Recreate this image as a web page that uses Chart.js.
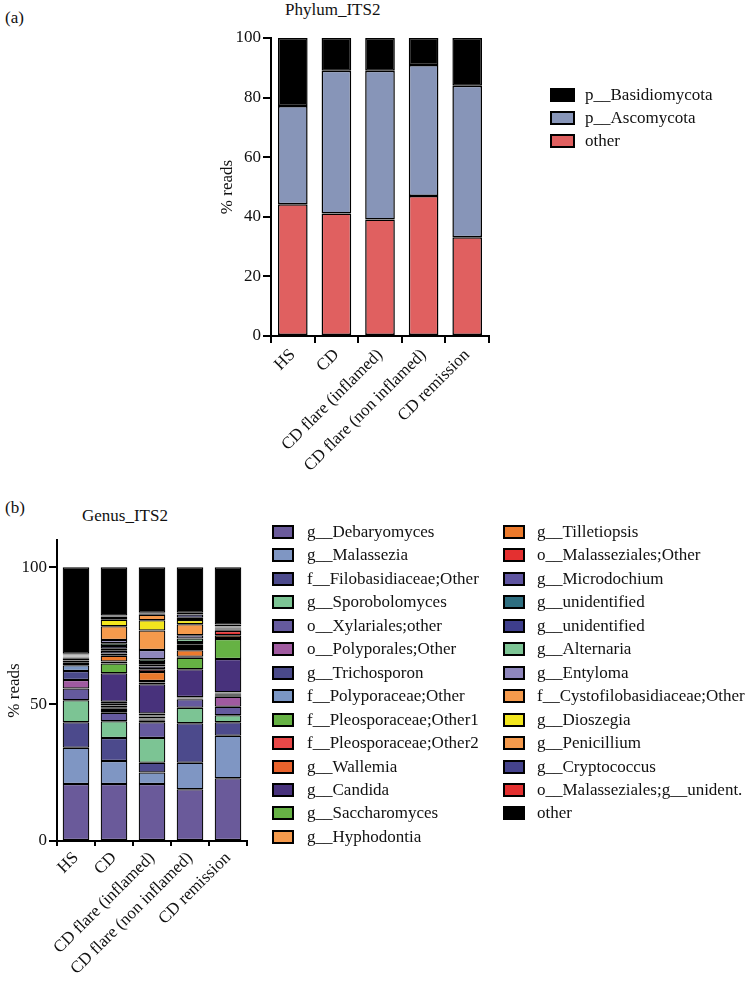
<!DOCTYPE html>
<html>
<head>
<meta charset="utf-8">
<script src="https://cdn.jsdelivr.net/npm/chart.js@4.4.0/dist/chart.umd.min.js"></script>
<style>
  body { margin: 0; background: #fff; font-family: "Liberation Serif", serif; color: #111; }
  #page { position: relative; width: 752px; height: 983px; overflow: hidden; }
  .abs { position: absolute; }
  .lbl { font-size: 17px; white-space: nowrap; line-height: 1; }
  .item { position: absolute; height: 20px; display: flex; align-items: center; white-space: nowrap; font-size: 17px; }
  .box { box-sizing: border-box; border: 2px solid #000; }
</style>
</head>
<body>
<div id="page">
  <div class="abs lbl" style="left:5px; top:9px;">(a)</div>
  <div class="abs lbl" style="left:5px; top:499px;">(b)</div>
  <div class="abs lbl" style="left:285px; top:1px;">Phylum_ITS2</div>
  <div class="abs lbl" style="left:82px; top:507px;">Genus_ITS2</div>
  <canvas id="phylum" class="abs" width="752" height="490" style="left:0; top:0;"></canvas>
  <canvas id="genus" class="abs" width="752" height="493" style="left:0; top:490px;"></canvas>
  <div id="phylumLegend"></div>
  <div id="genusLegend"></div>
</div>
<script>
// groups on the x axis
const groups = ['HS', 'CD', 'CD flare (inflamed)', 'CD flare (non inflamed)', 'CD remission']

// panel (a) - phylum
const phylumOther = [44.2, 41.1, 39.1, 47.0, 33.1]
const ascomycota = [33.0, 47.9, 49.9, 43.9, 50.9]
const basidiomycota = [22.8, 11.0, 11.0, 9.1, 16.0]

// panel (b) - genus, bottom of the stack first
const debaryomyces = [20.8, 20.8, 20.8, 18.9, 22.9]
const malassezia = [13.3, 8.4, 4.2, 9.7, 15.6]
const filobasidiaceae = [9.3, 8.4, 3.6, 14.4, 4.9]
const sporobolomyces = [8.0, 6.2, 9.0, 5.7, 2.6]
const xylariales = [4.3, 3.1, 5.8, 3.1, 3.1]
const polyporales = [3.1, 0.6, 0.5, 0.1, 3.6]
const trichosporon = [3.3, 0.8, 0.5, 0.2, 0.6]
const polyporaceae = [2.1, 0.6, 0.4, 0.1, 0.3]
const pleosporaceae1 = [0.9, 0.6, 0.7, 0.1, 0.3]
const pleosporaceae2 = [0.9, 0.7, 0.4, 0.1, 0.3]
const wallemia = [0.8, 0.7, 0.7, 0.2, 0.2]
const candida = [0.2, 10.4, 10.7, 10.2, 12.1]
const saccharomyces = [0.1, 3.6, 0.6, 4.2, 7.3]
const hyphodontia = [0.1, 0.7, 0.6, 0.3, 0.4]
const tilletiopsis = [0.1, 2.1, 3.3, 2.4, 1.0]
const malassezialesOther = [0.1, 0.8, 1.0, 0.8, 1.5]
const microdochium = [0.1, 1.0, 1.0, 0.8, 0.3]
const unidentifiedA = [0.1, 0.8, 0.8, 0.6, 0.3]
const unidentifiedB = [0.1, 1.0, 0.8, 0.8, 0.4]
const alternaria = [0.1, 1.0, 1.0, 1.3, 0.2]
const entyloma = [0.1, 1.2, 3.4, 1.2, 0.2]
const cystofilobasidiaceae = [0.1, 5.0, 7.1, 4.0, 0.2]
const dioszegia = [0.1, 2.4, 3.8, 1.6, 0.1]
const penicillium = [0.1, 0.6, 2.0, 0.8, 0.2]
const cryptococcus = [0.1, 0.5, 0.4, 1.2, 0.3]
const malassezialesUnident = [0.1, 0.4, 0.3, 0.6, 0.2]
const genusOther = [31.6, 17.6, 16.6, 16.6, 20.9]

const genusNames = [
  'g__Debaryomyces', 'g__Malassezia', 'f__Filobasidiaceae;Other', 'g__Sporobolomyces',
  'o__Xylariales;other', 'o__Polyporales;Other', 'g__Trichosporon', 'f__Polyporaceae;Other',
  'f__Pleosporaceae;Other1', 'f__Pleosporaceae;Other2', 'g__Wallemia', 'g__Candida',
  'g__Saccharomyces', 'g__Hyphodontia', 'g__Tilletiopsis', 'o__Malasseziales;Other',
  'g__Microdochium', 'g__unidentified', 'g__unidentified', 'g__Alternaria', 'g__Entyloma',
  'f__Cystofilobasidiaceae;Other', 'g__Dioszegia', 'g__Penicillium', 'g__Cryptococcus',
  'o__Malasseziales;g__unident.', 'other'
]
const genusColors = [
  '#6a5a9a', '#7f96c3', '#4c4a8c', '#7cc494', '#655a9e', '#a05aa0', '#4a4a8a', '#7a96c4',
  '#66b244', '#e84848', '#e8622c', '#48327c', '#66b244', '#f59a4c', '#ec7a2c', '#e43030',
  '#5e54a0', '#2e6e80', '#3e3e8c', '#7cc494', '#8e86bc', '#f59a4c', '#f2e61e', '#f59a4c',
  '#44428c', '#e43030', '#000000'
]
const genusSeries = [
  debaryomyces, malassezia, filobasidiaceae, sporobolomyces, xylariales, polyporales,
  trichosporon, polyporaceae, pleosporaceae1, pleosporaceae2, wallemia, candida,
  saccharomyces, hyphodontia, tilletiopsis, malassezialesOther, microdochium, unidentifiedA,
  unidentifiedB, alternaria, entyloma, cystofilobasidiaceae, dioszegia, penicillium,
  cryptococcus, malassezialesUnident, genusOther
]

const FONT = 'Liberation Serif'
Chart.defaults.font.family = FONT
Chart.defaults.font.size = 17
Chart.defaults.color = '#111'

function axes(yMax, yStep, yWidth, xHeight, titlePad, xTickLen) {
  return {
    x: {
      stacked: true,
      grid: { display: true, drawOnChartArea: false, color: '#000', lineWidth: 2, tickLength: xTickLen },
      border: { display: true, color: '#000', width: 2 },
      ticks: { minRotation: 45, maxRotation: 45, padding: 2, color: '#111', font: { size: 17 } },
      afterFit(scale) { scale.height = xHeight }
    },
    y: {
      stacked: true,
      min: 0,
      max: yMax,
      grid: { display: true, drawOnChartArea: false, color: '#000', lineWidth: 2, tickLength: 8 },
      border: { display: true, color: '#000', width: 2 },
      ticks: { stepSize: yStep, includeBounds: false, padding: 2, color: '#111', font: { size: 17 } },
      title: { display: true, text: '% reads', font: { size: 17 }, color: '#111', padding: { top: titlePad, bottom: 0 } },
      afterFit(scale) { scale.width = yWidth }
    }
  }
}

// panel (a)
const phylumSets = [
  { label: 'other', data: phylumOther, backgroundColor: '#e06060' },
  { label: 'p__Ascomycota', data: ascomycota, backgroundColor: '#8795b8' },
  { label: 'p__Basidiomycota', data: basidiomycota, backgroundColor: '#000000' }
]
new Chart(document.getElementById('phylum'), {
  type: 'bar',
  data: {
    labels: groups,
    datasets: phylumSets.map(d => ({
      ...d, borderColor: '#000', borderWidth: 1.5, borderSkipped: false,
      categoryPercentage: 1, barPercentage: 0.68
    }))
  },
  options: {
    responsive: false,
    animation: false,
    layout: { padding: { left: 205, right: 263, top: 38, bottom: 0 } },
    plugins: { legend: { display: false }, tooltip: { enabled: false } },
    scales: axes(100, 20, 66, 154, 12, 7)
  }
})

// panel (b)
new Chart(document.getElementById('genus'), {
  type: 'bar',
  data: {
    labels: groups,
    datasets: genusSeries.map((vals, i) => ({
      label: genusNames[i], data: vals, backgroundColor: genusColors[i],
      borderColor: '#000', borderWidth: 1.25, borderSkipped: false,
      categoryPercentage: 1, barPercentage: 0.7
    }))
  },
  options: {
    responsive: false,
    animation: false,
    layout: { padding: { left: 0, right: 505, top: 50, bottom: 0 } },
    plugins: { legend: { display: false }, tooltip: { enabled: false } },
    scales: axes(110, 50, 57, 142, 4, 5)
  }
})

// legends
function addItem(parent, x, y, w, h, textX, color, text) {
  const row = document.createElement('div')
  row.className = 'item'
  row.style.left = x + 'px'
  row.style.top = (y - 10) + 'px'
  const box = document.createElement('div')
  box.className = 'box'
  box.style.width = w + 'px'
  box.style.height = h + 'px'
  box.style.background = color
  box.style.marginRight = (textX - x - w) + 'px'
  const span = document.createElement('span')
  span.textContent = text
  row.appendChild(box)
  row.appendChild(span)
  parent.appendChild(row)
}

const pl = document.getElementById('phylumLegend')
const phylumOrder = [2, 1, 0]
phylumOrder.forEach((k, r) => {
  addItem(pl, 550, 95 + r * 23, 25, 14, 585, phylumSets[k].backgroundColor, phylumSets[k].label)
})

const gl = document.getElementById('genusLegend')
genusNames.forEach((name, i) => {
  const col = i < 14 ? 0 : 1
  const r = col ? i - 14 : i
  const x = col ? 503 : 272
  const tx = col ? 537 : 307
  addItem(gl, x, 532 + r * 23.45, 22, 14, tx, genusColors[i], name)
})
</script>
</body>
</html>
